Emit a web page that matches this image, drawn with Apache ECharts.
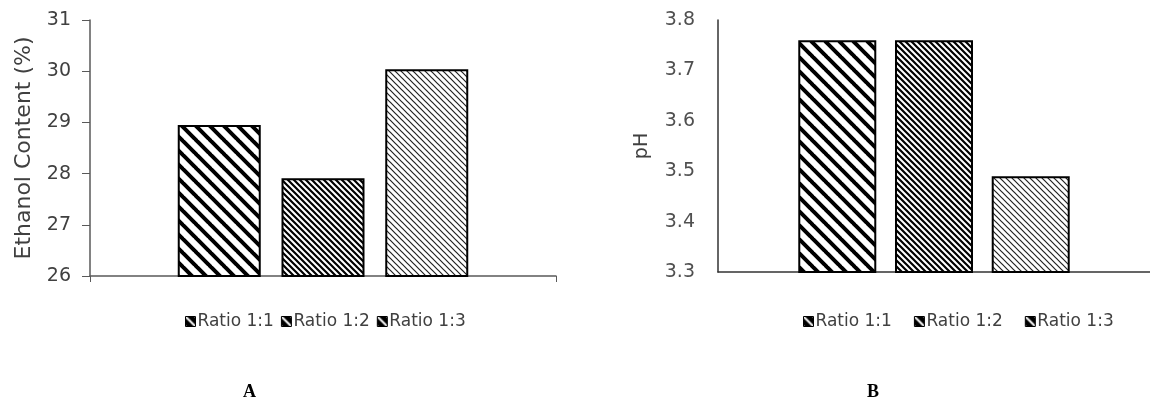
<!DOCTYPE html>
<html>
<head>
<meta charset="utf-8">
<script src="https://cdn.jsdelivr.net/npm/echarts@6/dist/echarts.min.js"></script>
<style>
  html, body { margin: 0; padding: 0; background: #fff; }
  #chart { width: 1150px; height: 401px; }
</style>
</head>
<body>
<div id="chart"></div>
<script>
// data
const seriesNames = ['Ratio 1:1', 'Ratio 1:2', 'Ratio 1:3'];
const ethanolValues = [28.95, 27.91, 30.04];
const phValues = [3.76, 3.76, 3.49];
const ethanolTicks = {min: 26, max: 31, interval: 1};
const phTicks = {min: 3.3, max: 3.8, interval: 0.1};

// hatch patterns, "\" direction
function hatch(p, w, color, bg) {
  const c = document.createElement('canvas');
  c.width = p; c.height = p;
  const g = c.getContext('2d');
  g.fillStyle = bg || '#fff';
  g.fillRect(0, 0, p, p);
  g.strokeStyle = color;
  g.lineWidth = w;
  g.beginPath();
  for (let k = -1; k <= 1; k++) {
    g.moveTo(k * p - 1, -1);
    g.lineTo(k * p + p + 1, p + 1);
  }
  g.stroke();
  return {image: c, repeat: 'repeat'};
}
const patterns = [hatch(14, 4, '#000'), hatch(6, 2.2, '#000'), hatch(6, 1.2, '#222')];
// legend swatch: black box with a white diagonal
const swatch = hatch(10, 2, '#fff', '#000');

const chart = echarts.init(document.getElementById('chart'));
const axisCol = '#595959';
const txtCol = '#404040';
const font = 'DejaVu Sans';

function bars(values, idx, width, gap) {
  return values.map((v, i) => ({
    name: seriesNames[i],
    type: 'bar',
    xAxisIndex: idx,
    yAxisIndex: idx,
    data: [v],
    barWidth: width,
    barGap: gap,
    itemStyle: {color: patterns[i], borderColor: '#000', borderWidth: 2},
    emphasis: {disabled: true}
  }));
}

function legendItems() {
  return seriesNames.map(n => ({name: n, icon: 'rect', itemStyle: {color: swatch, borderColor: '#000', borderWidth: 1}}));
}

chart.setOption({
  animation: false,
  grid: [
    {left: 90, right: 594, top: 20, bottom: 125},
    {left: 718, right: -8, top: 20, bottom: 129}
  ],
  title: [
    {text: 'A', left: 238, top: 378, textStyle: {fontFamily: 'Liberation Serif', fontWeight: 'bold', fontSize: 18, color: '#000'}},
    {text: 'B', left: 862, top: 378, textStyle: {fontFamily: 'Liberation Serif', fontWeight: 'bold', fontSize: 18, color: '#000'}}
  ],
  legend: [
    {data: legendItems(), left: 180, top: 308, itemWidth: 10, itemHeight: 10, itemGap: 7,
     textStyle: {fontFamily: font, fontSize: 17, color: txtCol, padding: [0, 0, 0, -3]}},
    {data: legendItems(), left: 798, top: 308, itemWidth: 10, itemHeight: 10, itemGap: 22,
     textStyle: {fontFamily: font, fontSize: 17, color: txtCol, padding: [0, 0, 0, -3]}}
  ],
  xAxis: [
    {gridIndex: 0, type: 'category', data: [''],
     axisLine: {lineStyle: {color: axisCol, width: 1.5}},
     axisTick: {show: true, length: 6, lineStyle: {color: axisCol}},
     axisLabel: {show: false}},
    {gridIndex: 1, type: 'category', data: [''],
     axisLine: {lineStyle: {color: '#333', width: 1.5}},
     axisTick: {show: false},
     axisLabel: {show: false}}
  ],
  yAxis: [
    {gridIndex: 0, type: 'value', min: ethanolTicks.min, max: ethanolTicks.max, interval: ethanolTicks.interval,
     name: 'Ethanol Content (%)', nameLocation: 'middle', nameGap: 55,
     nameTextStyle: {fontFamily: font, fontSize: 22, color: txtCol},
     axisLine: {show: true, lineStyle: {color: axisCol, width: 1.5}},
     axisTick: {show: true, length: 8, lineStyle: {color: axisCol}},
     axisLabel: {margin: 19, fontFamily: font, fontSize: 19, color: txtCol},
     splitLine: {show: false}},
    {gridIndex: 1, type: 'value', min: phTicks.min, max: phTicks.max, interval: phTicks.interval,
     name: 'pH', nameLocation: 'middle', nameGap: 66,
     nameTextStyle: {fontFamily: font, fontSize: 19, color: txtCol},
     axisLine: {show: true, lineStyle: {color: '#333', width: 1.5}},
     axisTick: {show: false},
     axisLabel: {margin: 23, fontFamily: font, fontSize: 19, color: '#505050',
                 formatter: v => v.toFixed(1)},
     splitLine: {show: false}}
  ],
  series: bars(ethanolValues, 0, 83, '25%').concat(bars(phValues, 1, 78, '24%'))
});
</script>
</body>
</html>
